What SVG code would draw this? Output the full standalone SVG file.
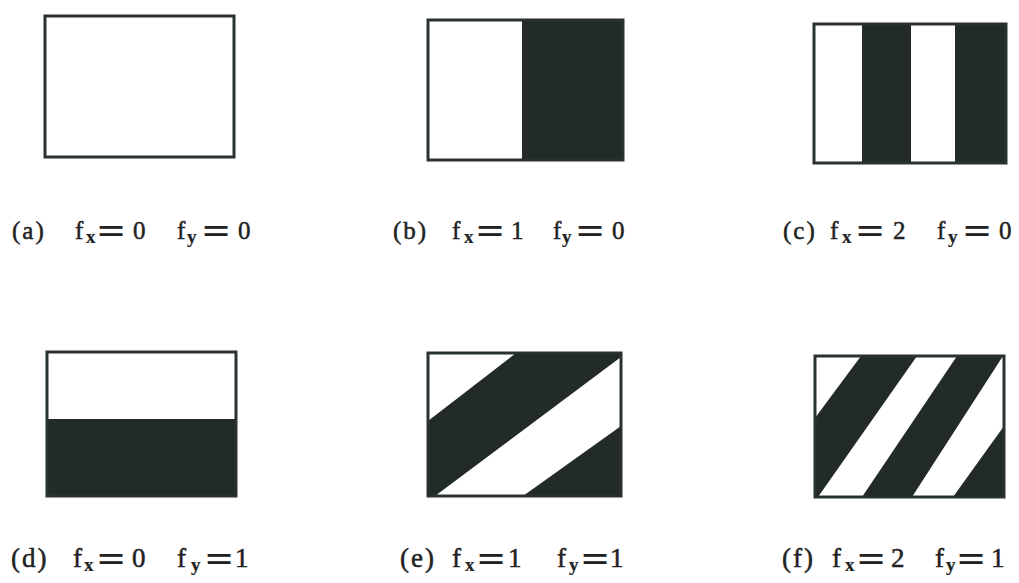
<svg xmlns="http://www.w3.org/2000/svg" width="1019" height="583" viewBox="0 0 1019 583">
<style>
.frame{fill:none;stroke:#2a322f;stroke-width:3}
.dark{fill:#232b28}
.lbl{font-family:"Liberation Serif","Times New Roman",serif;fill:#222;stroke:#222;stroke-width:0.5;font-size:25px}
.lbl2{font-size:27px}
.par{letter-spacing:2px}
.sub{font-size:19px;font-weight:bold;stroke-width:0.2}
.eq{font-family:"DejaVu Serif",serif;font-size:36px;stroke-width:0.2}
</style>
<rect width="1019" height="583" fill="#ffffff"/>
<g id="panel-a">
<rect class="frame" x="45" y="16" width="189" height="141"/>
<text class="lbl"><tspan class="par" x="12" y="239">(a)</tspan><tspan x="75" y="239">f</tspan><tspan class="sub" x="86" y="243">x</tspan><tspan class="eq" x="96" y="242">=</tspan><tspan x="133" y="239">0</tspan><tspan x="177" y="239">f</tspan><tspan class="sub" x="187" y="243">y</tspan><tspan class="eq" x="201" y="242">=</tspan><tspan x="238" y="239">0</tspan></text>
</g>
<g id="panel-b">
<rect class="dark" x="522" y="20" width="101" height="140"/>
<rect class="frame" x="428" y="20" width="195" height="140"/>
<text class="lbl"><tspan class="par" x="393" y="239">(b)</tspan><tspan x="452" y="239">f</tspan><tspan class="sub" x="464" y="243">x</tspan><tspan class="eq" x="475" y="242">=</tspan><tspan x="511" y="239">1</tspan><tspan x="553" y="239">f</tspan><tspan class="sub" x="562" y="243">y</tspan><tspan class="eq" x="575" y="242">=</tspan><tspan x="612" y="239">0</tspan></text>
</g>
<g id="panel-c">
<rect class="dark" x="862" y="24" width="49" height="139"/>
<rect class="dark" x="955" y="24" width="51" height="139"/>
<rect class="frame" x="814" y="24" width="192" height="139"/>
<text class="lbl"><tspan class="par" x="783" y="239">(c)</tspan><tspan x="830" y="239">f</tspan><tspan class="sub" x="842" y="243">x</tspan><tspan class="eq" x="855" y="242">=</tspan><tspan x="893" y="239">2</tspan><tspan x="937" y="239">f</tspan><tspan class="sub" x="948" y="243">y</tspan><tspan class="eq" x="962" y="242">=</tspan><tspan x="999" y="239">0</tspan></text>
</g>
<g id="panel-d">
<rect class="dark" x="47" y="419" width="189" height="77"/>
<rect class="frame" x="47" y="352" width="189" height="144"/>
<text class="lbl lbl2"><tspan class="par" x="11" y="567">(d)</tspan><tspan x="73" y="567">f</tspan><tspan class="sub" x="84" y="571">x</tspan><tspan class="eq" x="96" y="570">=</tspan><tspan x="132" y="567">0</tspan><tspan x="177" y="567">f</tspan><tspan class="sub" x="191" y="571">y</tspan><tspan class="eq" x="204" y="570">=</tspan><tspan x="235" y="567">1</tspan></text>
</g>
<g id="panel-e">
<polygon class="dark" points="516,353 621,353 621,357 435,496 428,496 428,421"/>
<polygon class="dark" points="621,426 621,496 523,496"/>
<rect class="frame" x="428" y="353" width="193" height="143"/>
<text class="lbl lbl2"><tspan class="par" x="400" y="567">(e)</tspan><tspan x="452" y="567">f</tspan><tspan class="sub" x="465" y="571">x</tspan><tspan class="eq" x="476" y="570">=</tspan><tspan x="508" y="567">1</tspan><tspan x="557" y="567">f</tspan><tspan class="sub" x="569" y="571">y</tspan><tspan class="eq" x="580" y="570">=</tspan><tspan x="610" y="567">1</tspan></text>
</g>
<g id="panel-f">
<polygon class="dark" points="861,356 917,356 818,497 815,497 815,418"/>
<polygon class="dark" points="957,356 1003,356 912,497 862,497"/>
<polygon class="dark" points="1004,426 1004,497 953,497"/>
<rect class="frame" x="815" y="356" width="189" height="141"/>
<text class="lbl lbl2"><tspan class="par" x="782" y="567">(f)</tspan><tspan x="832" y="567">f</tspan><tspan class="sub" x="845" y="571">x</tspan><tspan class="eq" x="856" y="570">=</tspan><tspan x="891" y="567">2</tspan><tspan x="935" y="567">f</tspan><tspan class="sub" x="946" y="571">y</tspan><tspan class="eq" x="956" y="570">=</tspan><tspan x="991" y="567">1</tspan></text>
</g>
</svg>
